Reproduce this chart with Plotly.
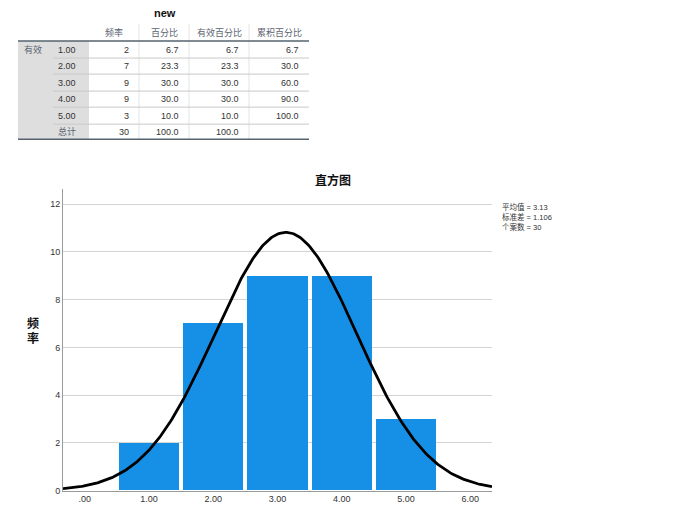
import numpy as np
import plotly.graph_objects as go

# ---------------- data ----------------
table_title = "new"
col_headers = ["频率", "百分比", "有效百分比", "累积百分比"]
row_group = "有效"
row_labels = ["1.00", "2.00", "3.00", "4.00", "5.00"]
freq = [2, 7, 9, 9, 3]
pct = [6.7, 23.3, 30.0, 30.0, 10.0]
valid_pct = [6.7, 23.3, 30.0, 30.0, 10.0]
cum_pct = [6.7, 30.0, 60.0, 90.0, 100.0]
total_label = "总计"
total_freq = 30
total_pct = 100.0
total_valid_pct = 100.0

bin_centers = [1, 2, 3, 4, 5]
x_tick_vals = [0, 1, 2, 3, 4, 5, 6]
x_tick_text = [".00", "1.00", "2.00", "3.00", "4.00", "5.00", "6.00"]
y_tick_vals = [0, 2, 4, 6, 8, 10, 12]
mean_val = 3.13
sd_val = 1.106
n_val = 30
chart_title = "直方图"
y_title = "频率"
stats_lines = ["平均值 = 3.13", "标准差 = 1.106", "个案数 = 30"]

# ---------------- style / layout ----------------
W, H = 680, 507
KY = 1.011  # vertical compensation observed in rendering
FONT = "Liberation Sans, Arial, Noto Sans CJK SC, sans-serif"
BAR_COLOR = "#1590E6"
TXT = "#333333"
HDR = "#5B6470"

fig = go.Figure()

# Histogram bars
fig.add_trace(go.Bar(x=bin_centers, y=freq, width=0.94, marker=dict(color=BAR_COLOR, line=dict(width=0)),
                     xaxis="x", yaxis="y", showlegend=False, hoverinfo="x+y"))

# Normal curve from mean / sd / n (bin width 1)
xs = np.linspace(-0.34, 6.34, 300)
ys = n_val * 1.0 / (sd_val * np.sqrt(2 * np.pi)) * np.exp(-0.5 * ((xs - mean_val) / sd_val) ** 2)
fig.add_trace(go.Scatter(x=xs, y=ys, mode="lines", line=dict(color="black", width=2.8),
                         xaxis="x", yaxis="y", showlegend=False, hoverinfo="skip"))

# chart geometry in (target) pixels
px_left, px_right, px_bottom, px_top = 63, 492, 490, 189
x_dom = [px_left / W, px_right / W]
y_dom = [max(0.0, (H - px_bottom * KY) / H), (H - px_top * KY) / H]

shapes = []
annotations = []

# ---------------- table (pixel-space helper axes) ----------------
col_edges = [89, 139, 189, 249, 309]
row_edges = [41, 58, 74, 91, 107, 124, 139]
grp_left, lab_left = 18, 53
hdr_top = 24

shapes.append(dict(type="rect", xref="x2", yref="y2", x0=grp_left, x1=col_edges[0], y0=row_edges[0], y1=row_edges[-1],
                   fillcolor="#DEDEDE", line=dict(width=0), layer="below"))
for cx in col_edges[1:-1]:
    shapes.append(dict(type="line", xref="x2", yref="y2", x0=cx, x1=cx, y0=hdr_top, y1=row_edges[-1],
                       line=dict(color="#E3E3E3", width=1), layer="below"))
for ry in row_edges[1:-1]:
    shapes.append(dict(type="line", xref="x2", yref="y2", x0=lab_left, x1=col_edges[-1], y0=ry, y1=ry,
                       line=dict(color="#C9C9C9", width=1), layer="below"))
for ry in (row_edges[0], row_edges[-1]):
    shapes.append(dict(type="line", xref="x2", yref="y2", x0=grp_left, x1=col_edges[-1], y0=ry, y1=ry,
                       line=dict(color="#56636F", width=1.5), layer="below"))

def ann(x, y, text, size=9, color=TXT, xanchor="center", bold=False, yanchor="middle", align="center"):
    annotations.append(dict(x=x, y=y, xref="x2", yref="y2", text=(f"<b>{text}</b>" if bold else text),
                            showarrow=False, xanchor=xanchor, yanchor=yanchor, align=align,
                            font=dict(family=FONT, size=size, color=color)))

ann((grp_left + col_edges[-1]) / 2 + 1, 13, table_title, size=11, color="#111", bold=True)
for i, h in enumerate(col_headers):
    ann((col_edges[i] + col_edges[i + 1]) / 2, 32.5, h, size=9, color=HDR)

ann(grp_left + 4, (row_edges[0] + row_edges[1]) / 2, row_group, size=9, color=HDR, xanchor="left")
cols = [freq, pct, valid_pct, cum_pct]
for r, lab in enumerate(row_labels):
    yc = (row_edges[r] + row_edges[r + 1]) / 2
    ann(lab_left + 3, yc, lab, size=9, color=TXT, xanchor="left")
    for c, arr in enumerate(cols):
        v = arr[r]
        txt = str(v) if c == 0 else f"{v:.1f}"
        ann(col_edges[c + 1] - 8, yc, txt, size=9, color=TXT, xanchor="right")
yc = (row_edges[-2] + row_edges[-1]) / 2
ann(lab_left + 3, yc, total_label, size=9, color=HDR, xanchor="left")
ann(col_edges[1] - 8, yc, str(total_freq), size=9, xanchor="right")
ann(col_edges[2] - 8, yc, f"{total_pct:.1f}", size=9, xanchor="right")
ann(col_edges[3] - 8, yc, f"{total_valid_pct:.1f}", size=9, xanchor="right")

# ---------------- chart texts ----------------
ann(333, 180, chart_title, size=12, color="#111", bold=True)
ann(33, 323, y_title[0], size=12, color="#111", bold=True)
ann(33, 338, y_title[1], size=12, color="#111", bold=True)
ann(500, 217, "<br>".join(stats_lines), size=7.5, color=TXT, xanchor="left", align="left")

fig.update_layout(
    width=W, height=H, margin=dict(l=0, r=0, t=0, b=0),
    paper_bgcolor="white", plot_bgcolor="rgba(0,0,0,0)",
    font=dict(family=FONT, color=TXT, size=9),
    bargap=0,
    xaxis=dict(domain=x_dom, range=[-0.34, 6.34], tickvals=x_tick_vals, ticktext=x_tick_text,
               showgrid=False, zeroline=False, showline=True, linecolor="#9A9A9A", linewidth=1,
               ticks="", tickfont=dict(size=9, color=TXT), anchor="y"),
    yaxis=dict(domain=y_dom, range=[0, 12.63], tickvals=y_tick_vals, showgrid=True, gridcolor="#D4D4D4",
               gridwidth=1, zeroline=False, showline=True, linecolor="#9A9A9A", linewidth=1,
               ticks="", tickfont=dict(size=9, color=TXT), anchor="x"),
    xaxis2=dict(domain=[0, 1], range=[0, W], visible=False, anchor="y2", fixedrange=True),
    yaxis2=dict(domain=[0, 1], range=[H / KY, 0], visible=False, anchor="x2", fixedrange=True),
    shapes=shapes, annotations=annotations,
)

fig.write_html("out.html")
